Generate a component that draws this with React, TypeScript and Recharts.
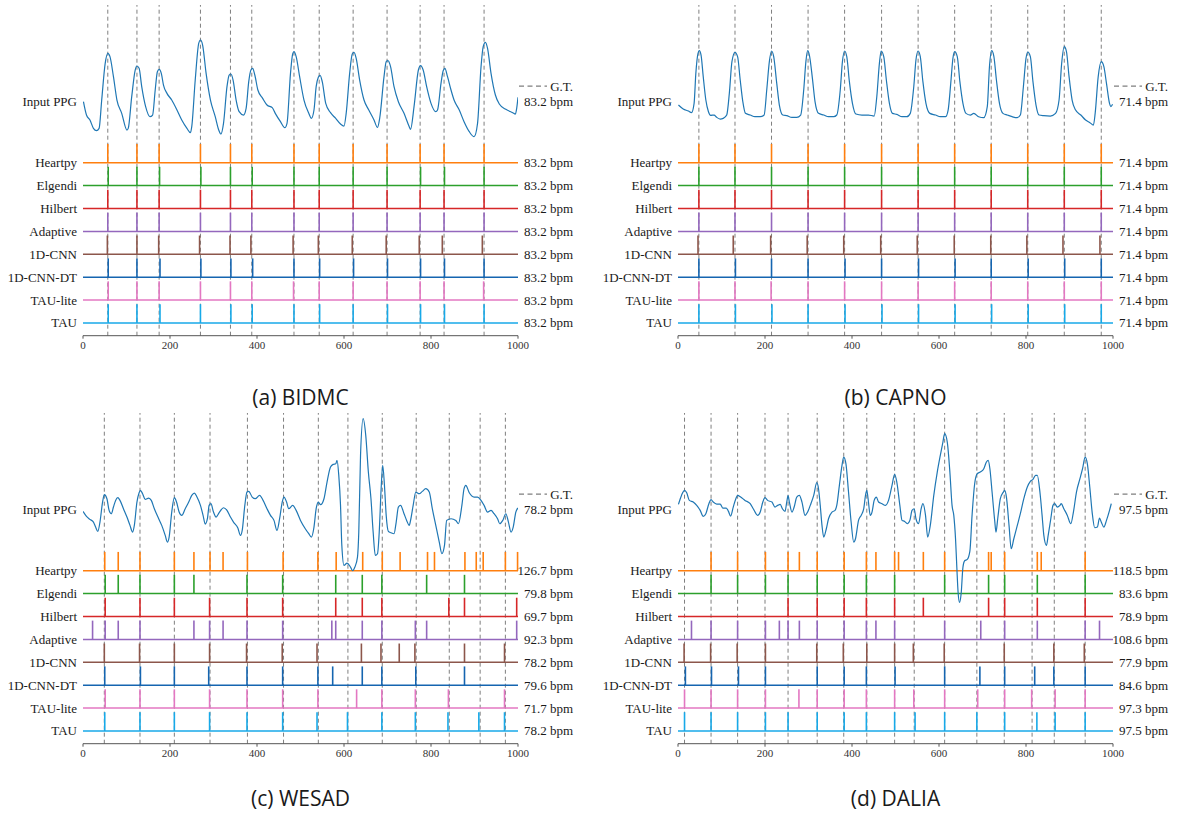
import React from 'react'
import { ComposedChart, Line, XAxis, YAxis, ReferenceLine } from 'recharts'

const SERIF = '"Liberation Serif", "DejaVu Serif", serif'
const SANS = '"Open Sans", "Noto Sans", sans-serif'

const METHODS = ['Heartpy', 'Elgendi', 'Hilbert', 'Adaptive', '1D-CNN', '1D-CNN-DT', 'TAU-lite', 'TAU']
const METHOD_COLORS = ['#ff7f0e', '#2ca02c', '#d62728', '#9467bd', '#8c564b', '#1565b0', '#e377c2', '#17a9e8']
const X_TICKS = [0, 200, 400, 600, 800, 1000]

// (a) BIDMC
const bidmcPpg: [number, number][] = [
  [1, 1.15], [8, 0.75], [16, 0.6], [24, 0.35], [31, 0.28], [37, 0.35], [43, 1.2], [51, 2.3], [57, 2.6], [62, 2.5],
  [70, 1.9], [78, 1.2], [89, 0.8], [101, 0.3], [104, 0.35], [112, 1.3], [120, 2.1], [124, 2.22], [129, 2.15], [135, 1.6],
  [144, 1.0], [154, 0.7], [160, 0.75], [166, 1.5], [171, 2.05], [175, 2.12], [180, 2.0], [185, 1.65], [193, 1.4], [204, 1.2],
  [216, 0.9], [227, 0.6], [239, 0.35], [247, 0.22], [250, 0.4], [258, 1.8], [266, 2.9], [270, 3.0], [275, 2.85], [283, 2.0],
  [293, 1.2], [304, 0.7], [312, 0.3], [317, 0.18], [323, 0.5], [331, 1.6], [336, 1.95], [340, 1.98], [345, 1.8], [352, 1.2],
  [359, 0.85], [369, 0.75], [375, 0.95], [381, 1.75], [386, 2.1], [390, 2.15], [395, 1.95], [402, 1.5], [413, 1.25], [423, 1.05],
  [435, 0.97], [442, 0.8], [454, 0.55], [464, 0.37], [469, 0.5], [477, 2.0], [482, 2.58], [485, 2.65], [490, 2.5], [498, 1.9],
  [508, 1.2], [519, 0.8], [525, 0.65], [531, 0.9], [536, 1.6], [541, 1.88], [545, 1.94], [550, 1.75], [558, 1.1], [569, 0.82],
  [581, 0.65], [592, 0.48], [600, 0.42], [605, 0.8], [613, 2.0], [619, 2.58], [623, 2.63], [628, 2.45], [636, 1.8], [646, 1.2],
  [657, 0.9], [669, 0.6], [677, 0.38], [682, 0.65], [692, 1.9], [697, 2.35], [701, 2.38], [707, 2.2], [715, 1.6], [725, 1.15],
  [738, 0.8], [750, 0.4], [753, 0.32], [761, 1.0], [771, 2.1], [776, 2.23], [782, 2.1], [790, 1.6], [800, 1.1], [811, 0.85],
  [815, 0.9], [823, 1.7], [828, 2.08], [832, 2.15], [838, 1.9], [846, 1.5], [853, 1.2], [865, 0.9], [876, 0.55], [888, 0.25],
  [899, 0.1], [907, 0.5], [915, 2.2], [920, 2.8], [925, 2.93], [930, 2.75], [938, 2.0], [948, 1.35], [957, 1.08], [972, 0.92],
  [988, 0.82], [994, 0.78], [997, 0.95], [1000, 1.28],
]
const bidmcGt = [57, 124, 175, 270, 339, 388, 485, 543, 621, 699, 775, 830, 922]
const bidmcPeaks = [
  [57, 124, 175, 270, 339, 388, 485, 543, 621, 699, 775, 830, 922],
  [58, 124, 176, 271, 339, 389, 485, 543, 621, 699, 776, 831, 922],
  [57, 124, 175, 270, 339, 388, 485, 543, 621, 699, 775, 830, 922],
  [57, 124, 175, 270, 339, 388, 485, 543, 621, 699, 775, 830, 922],
  [56, 124, 174, 268, 338, 386, 483, 541, 619, 697, 773, 826, 918],
  [58, 124, 177, 271, 340, 390, 485, 544, 622, 700, 776, 831, 922],
  [58, 124, 175, 270, 339, 388, 484, 543, 621, 699, 775, 830, 921],
  [58, 124, 177, 270, 340, 389, 485, 544, 621, 700, 776, 831, 922],
]
const bidmcBpm = [83.2, 83.2, 83.2, 83.2, 83.2, 83.2, 83.2, 83.2]
const bidmcGtBpm = 83.2

// (b) CAPNO
const capnoPpg: [number, number][] = [
  [1, 1.05], [12, 0.93], [24, 0.87], [31, 0.82], [37, 1.1], [41, 2.0], [46, 2.6], [49, 2.68], [53, 2.55], [58, 1.9],
  [64, 1.2], [70, 0.85], [75, 0.74], [83, 0.75], [89, 0.68], [97, 0.63], [104, 0.65], [112, 0.75], [118, 1.4], [124, 2.35],
  [131, 2.63], [137, 2.5], [143, 1.8], [149, 1.15], [155, 0.8], [166, 0.75], [177, 0.7], [189, 0.7], [198, 0.75], [204, 1.5],
  [210, 2.35], [215, 2.67], [220, 2.5], [227, 1.7], [233, 1.05], [241, 0.75], [250, 0.73], [262, 0.68], [273, 0.68], [282, 0.75],
  [289, 1.5], [294, 2.35], [298, 2.68], [302, 2.55], [309, 1.85], [315, 1.15], [323, 0.8], [335, 0.75], [346, 0.7], [358, 0.7],
  [365, 0.75], [373, 1.5], [378, 2.35], [383, 2.67], [388, 2.5], [394, 1.75], [401, 1.1], [409, 0.78], [423, 0.75], [438, 0.75],
  [451, 0.72], [457, 1.3], [463, 2.3], [467, 2.67], [473, 2.5], [479, 1.8], [486, 1.1], [493, 0.8], [503, 0.77], [515, 0.7],
  [526, 0.7], [534, 0.8], [542, 1.6], [547, 2.4], [552, 2.67], [557, 2.5], [563, 1.75], [570, 1.1], [579, 0.8], [592, 0.75],
  [603, 0.7], [615, 0.7], [621, 0.9], [627, 1.7], [632, 2.45], [636, 2.65], [642, 2.5], [648, 1.75], [655, 1.1], [662, 0.8],
  [672, 0.75], [680, 0.8], [691, 0.7], [703, 0.67], [711, 1.0], [716, 2.2], [721, 2.68], [726, 2.52], [732, 1.8], [739, 1.1],
  [747, 0.8], [757, 0.75], [768, 0.7], [780, 0.67], [787, 0.75], [794, 1.6], [800, 2.45], [804, 2.64], [810, 2.5], [816, 1.75],
  [823, 1.05], [830, 0.75], [841, 0.73], [856, 0.72], [868, 0.8], [876, 1.2], [882, 2.3], [888, 2.8], [893, 2.65], [899, 1.9],
  [906, 1.2], [914, 0.9], [926, 0.75], [937, 0.6], [947, 0.52], [955, 0.45], [959, 0.8], [966, 1.9], [973, 2.35], [979, 2.2],
  [985, 1.7], [992, 1.1], [995, 1.0], [999, 1.07],
]
const capnoGt = [48, 131, 215, 299, 383, 468, 552, 636, 720, 804, 888, 973]
const capnoPeaks = [
  [48, 131, 215, 299, 383, 468, 552, 636, 720, 804, 888, 973],
  [48, 131, 215, 299, 383, 468, 552, 636, 720, 804, 888, 973],
  [48, 131, 215, 299, 383, 468, 552, 636, 720, 804, 888, 973],
  [48, 131, 215, 299, 383, 468, 552, 636, 720, 804, 888, 973],
  [46, 127, 213, 297, 381, 466, 550, 635, 719, 802, 885, 970],
  [48, 132, 215, 299, 384, 468, 553, 637, 720, 805, 889, 973],
  [48, 131, 214, 299, 383, 468, 552, 636, 720, 804, 888, 973],
  [48, 132, 216, 299, 384, 469, 553, 637, 721, 805, 889, 973],
]
const capnoBpm = [71.4, 71.4, 71.4, 71.4, 71.4, 71.4, 71.4, 71.4]
const capnoGtBpm = 71.4

// (c) WESAD
const wesadPpg: [number, number][] = [
  [0, 1.02], [8, 0.87], [16, 0.78], [24, 0.7], [29, 0.55], [34, 0.42], [39, 0.7], [45, 1.3], [49, 1.52], [55, 1.4],
  [60, 1.05], [65, 0.95], [70, 1.15], [75, 1.35], [80, 1.43], [85, 1.35], [93, 1.1], [101, 0.85], [108, 0.6], [114, 0.4],
  [118, 0.6], [124, 1.3], [129, 1.58], [132, 1.65], [137, 1.55], [143, 1.38], [151, 1.42], [157, 1.35], [164, 1.1], [174, 0.8],
  [181, 0.6], [189, 0.3], [194, 0.1], [198, 0.25], [204, 1.0], [210, 1.43], [215, 1.3], [221, 1.0], [227, 0.9], [235, 1.1],
  [243, 1.3], [250, 1.5], [256, 1.57], [262, 1.45], [270, 1.2], [276, 0.9], [281, 0.64], [286, 0.8], [290, 1.2], [294, 1.25],
  [300, 1.0], [306, 0.85], [313, 0.98], [323, 1.13], [331, 1.05], [339, 0.85], [346, 0.7], [356, 0.52], [362, 0.3], [366, 0.45],
  [372, 1.2], [377, 1.6], [381, 1.62], [389, 1.45], [396, 1.4], [406, 1.5], [414, 1.35], [423, 1.1], [431, 0.9], [439, 0.75],
  [446, 0.45], [452, 0.8], [458, 1.3], [462, 1.45], [468, 1.3], [473, 1.1], [482, 1.2], [490, 1.05], [500, 0.75], [511, 0.5],
  [519, 0.35], [525, 0.25], [531, 0.55], [536, 1.1], [541, 1.3], [546, 1.22], [554, 1.4], [561, 1.9], [569, 2.35], [575, 2.43],
  [581, 2.45], [584, 2.55], [588, 2.1], [592, 1.2], [595, 0.0], [600, -0.6], [607, -0.53], [615, -0.65], [620, -0.76], [625, -0.65],
  [631, -0.35], [634, 0.4], [638, 2.7], [644, 3.8], [650, 3.3], [656, 2.2], [662, 1.4], [667, 0.4], [672, -0.3], [677, -0.25],
  [681, 0.4], [685, 1.6], [689, 2.4], [693, 1.8], [697, 0.9], [702, 0.42], [708, 0.38], [715, 0.35], [720, 0.7], [725, 1.15],
  [730, 1.2], [738, 0.95], [744, 0.75], [750, 0.6], [753, 0.75], [759, 1.2], [765, 1.6], [773, 1.55], [780, 1.62], [788, 1.7],
  [796, 1.6], [803, 1.1], [811, 0.6], [819, 0.1], [825, -0.25], [831, 0.0], [836, 0.75], [846, 0.8], [857, 0.75], [863, 0.65],
  [871, 1.2], [876, 1.7], [880, 1.8], [888, 1.58], [899, 1.45], [907, 1.45], [915, 1.35], [922, 1.2], [930, 1.0], [938, 1.05],
  [945, 0.95], [953, 0.8], [958, 0.65], [965, 0.75], [972, 0.95], [978, 0.7], [984, 0.4], [989, 0.55], [995, 1.0], [1000, 1.12],
]
const wesadGt = [49, 131, 210, 292, 378, 461, 541, 609, 688, 766, 842, 913, 971]
const wesadPeaks = [
  [50, 81, 131, 210, 255, 292, 322, 378, 460, 540, 582, 643, 688, 729, 792, 808, 878, 904, 920, 971, 999],
  [51, 81, 131, 210, 255, 377, 459, 581, 642, 687, 790, 877],
  [51, 131, 210, 291, 377, 459, 581, 642, 687, 841, 877, 997],
  [22, 51, 81, 131, 255, 291, 322, 377, 459, 572, 581, 642, 687, 764, 790, 997],
  [49, 130, 210, 291, 376, 458, 538, 640, 685, 727, 763, 877, 969],
  [50, 132, 210, 289, 377, 459, 540, 574, 642, 687, 765, 877],
  [51, 131, 210, 291, 377, 459, 540, 629, 687, 764, 840, 969],
  [50, 131, 210, 291, 377, 459, 538, 608, 687, 764, 839, 910, 969],
]
const wesadBpm = [126.7, 79.8, 69.7, 92.3, 78.2, 79.6, 71.7, 78.2]
const wesadGtBpm = 78.2

// (d) DALIA
const daliaPpg: [number, number][] = [
  [1, 1.23], [8, 1.5], [15, 1.65], [20, 1.58], [26, 1.35], [35, 1.3], [43, 1.2], [51, 1.05], [58, 0.87], [64, 0.95],
  [71, 1.25], [76, 1.37], [81, 1.3], [89, 1.24], [97, 1.24], [103, 1.12], [111, 1.12], [116, 1.02], [121, 0.88], [127, 1.15],
  [133, 1.4], [137, 1.5], [144, 1.45], [154, 1.35], [166, 1.25], [173, 1.1], [183, 0.9], [189, 1.0], [195, 1.3], [200, 1.43],
  [206, 1.35], [216, 1.3], [223, 1.15], [229, 1.2], [235, 1.23], [240, 1.1], [246, 1.02], [250, 1.3], [253, 1.49], [256, 1.3],
  [262, 1.0], [267, 1.15], [273, 1.45], [279, 1.5], [285, 1.3], [292, 0.9], [298, 1.0], [304, 1.2], [312, 1.5], [319, 1.88],
  [323, 1.7], [327, 1.2], [331, 0.6], [335, 0.25], [341, 0.5], [346, 0.8], [354, 1.0], [361, 1.05], [365, 1.2], [371, 1.8],
  [377, 2.4], [381, 2.65], [386, 2.45], [392, 1.6], [398, 0.7], [404, 0.1], [408, 0.2], [415, 0.75], [421, 0.9], [427, 1.1],
  [431, 1.5], [434, 1.65], [437, 1.4], [442, 0.9], [446, 1.0], [451, 1.35], [456, 1.45], [461, 1.3], [469, 1.25], [477, 1.2],
  [484, 1.35], [492, 1.8], [498, 2.13], [503, 1.9], [510, 1.2], [515, 0.75], [521, 0.72], [527, 0.65], [533, 0.75], [538, 1.05],
  [543, 1.1], [547, 0.8], [553, 0.65], [559, 1.1], [563, 1.25], [569, 0.9], [574, 0.25], [580, 0.6], [588, 1.5], [596, 2.2],
  [603, 2.7], [609, 3.1], [613, 3.35], [619, 3.1], [625, 2.2], [630, 1.2], [634, 0.9], [638, 0.2], [641, -0.66], [644, -1.43],
  [647, -1.71], [651, -1.43], [655, -0.66], [659, -0.46], [665, -0.42], [671, -0.17], [676, 0.9], [682, 1.85], [688, 2.15], [695, 2.2],
  [703, 2.3], [709, 2.5], [713, 2.55], [717, 2.3], [722, 1.6], [728, 0.75], [731, 0.4], [735, 0.8], [741, 1.4], [748, 1.6],
  [751, 1.65], [755, 1.45], [761, 0.6], [766, -0.1], [772, 0.2], [780, 0.6], [787, 0.95], [795, 1.4], [803, 1.75], [810, 1.92],
  [816, 1.98], [822, 2.1], [826, 2.1], [832, 1.6], [837, 0.9], [841, 0.3], [847, 0.0], [851, 0.3], [857, 0.8], [862, 1.2],
  [866, 1.25], [872, 1.15], [878, 1.2], [881, 1.25], [887, 1.1], [895, 0.9], [903, 0.65], [909, 1.0], [916, 1.6], [924, 2.0],
  [930, 2.3], [936, 2.65], [941, 2.45], [947, 1.7], [952, 1.0], [958, 0.53], [964, 0.55], [969, 0.82], [973, 0.7], [979, 0.55],
  [985, 0.75], [992, 1.05], [996, 1.25],
]
const daliaGt = [15, 76, 137, 200, 253, 320, 381, 434, 498, 543, 613, 687, 750, 814, 865, 936]
const daliaPeaks = [
  [76, 137, 201, 253, 279, 320, 382, 433, 455, 498, 507, 564, 613, 714, 720, 751, 826, 835, 936],
  [76, 137, 201, 253, 320, 382, 433, 498, 613, 714, 751, 826, 936],
  [253, 320, 382, 433, 498, 564, 714, 751, 826, 936],
  [31, 76, 137, 201, 233, 253, 279, 320, 382, 433, 455, 498, 613, 696, 751, 826, 936, 969],
  [14, 75, 136, 201, 319, 380, 434, 498, 541, 612, 750, 864, 934],
  [17, 77, 139, 201, 320, 382, 433, 499, 613, 694, 751, 820, 864, 936],
  [15, 76, 137, 201, 278, 320, 382, 433, 498, 542, 613, 689, 751, 813, 867, 936],
  [15, 76, 137, 201, 253, 320, 382, 433, 498, 545, 613, 687, 751, 825, 867, 936],
]
const daliaBpm = [118.5, 83.6, 78.9, 108.6, 77.9, 84.6, 97.3, 97.5]
const daliaGtBpm = 97.5

// layout in row units: Heartpy row = 8 ... TAU row = 1
const ROW_Y = [8, 7, 6, 5, 4, 3, 2, 1]
const Y_DOMAIN: [number, number] = [0.445, 14.887]
const SPIKE_H = 0.82
const PPG_LABEL_Y = 10.66
const GT_KEY_Y = 11.34
const PPG_GAIN = 1.456
const LEFT_W = 83
const PLOT_W = 435
const CHART_H = 360

interface PanelProps {
  left: number
  top: number
  rightW: number
  ppg: [number, number][]
  ppgBase: number
  gt: number[]
  peaks: number[][]
  bpm: number[]
  gtBpm: number
  caption: string
  captionTop: number
}

function Panel({ left, top, rightW, ppg, ppgBase, gt, peaks, bpm, gtBpm, caption, captionTop }: PanelProps) {
  const data = ppg.map(([t, v]) => ({ t, ppg: ppgBase + v * PPG_GAIN }))
  const leftNames = new Map<number, string>(ROW_Y.map((r, i) => [r, METHODS[i]]))
  leftNames.set(PPG_LABEL_Y, 'Input PPG')
  const rightNames = new Map<number, string>(ROW_Y.map((r, i) => [r, bpm[i].toFixed(1) + ' bpm']))
  rightNames.set(PPG_LABEL_Y, gtBpm.toFixed(1) + ' bpm')
  const width = LEFT_W + PLOT_W + rightW

  const leftTick = (p: any) => (
    <text x={p.x} y={p.y} dy={4.5} textAnchor="end" fontSize={13} fontFamily={SERIF} fill="#1a1a1a">
      {leftNames.get(p.payload.value)}
    </text>
  )
  const rightTick = (p: any) => {
    const v = p.payload.value
    if (v === GT_KEY_Y) {
      return (
        <g>
          <line x1={p.x + 1} x2={p.x + 29} y1={p.y} y2={p.y} stroke="#7f7f7f" strokeWidth={1.2} strokeDasharray="5 3.5" />
          <text x={p.x + 55} y={p.y} dy={4.5} textAnchor="end" fontSize={13} fontFamily={SERIF} fill="#1a1a1a">G.T.</text>
        </g>
      )
    }
    return (
      <text x={p.x + 55} y={p.y} dy={4.5} textAnchor="end" fontSize={13} fontFamily={SERIF} fill="#1a1a1a">
        {rightNames.get(v)}
      </text>
    )
  }

  return (
    <>
      <div style={{ position: 'absolute', left, top, width, height: CHART_H }}>
        <ComposedChart width={width} height={CHART_H} data={data} margin={{ top: 5, right: 0, bottom: 0, left: 0 }}>
          <XAxis
            dataKey="t"
            type="number"
            domain={[0, 1000]}
            ticks={X_TICKS}
            interval={0}
            height={24.3}
            tickSize={3}
            stroke="#555"
            tick={{ fontSize: 11, fill: '#333', fontFamily: SERIF }}
            allowDataOverflow
          />
          <YAxis
            yAxisId="L"
            type="number"
            domain={Y_DOMAIN}
            ticks={[...ROW_Y, PPG_LABEL_Y]}
            interval={0}
            width={LEFT_W}
            axisLine={false}
            tickLine={false}
            tickSize={0}
            tickMargin={6}
            tick={leftTick}
            allowDataOverflow
          />
          <YAxis
            yAxisId="R"
            orientation="right"
            type="number"
            domain={Y_DOMAIN}
            ticks={[...ROW_Y, PPG_LABEL_Y, GT_KEY_Y]}
            interval={0}
            width={rightW}
            axisLine={false}
            tickLine={false}
            tickSize={0}
            tickMargin={0}
            tick={rightTick}
            allowDataOverflow
          />
          {gt.map((g) => (
            <ReferenceLine key={'gt' + g} yAxisId="L" x={g} stroke="#7f7f7f" strokeWidth={1} strokeDasharray="4 3" />
          ))}
          {ROW_Y.map((r, i) => (
            <ReferenceLine key={'base' + i} yAxisId="L" y={r} stroke={METHOD_COLORS[i]} strokeWidth={1.5} />
          ))}
          {peaks.map((row, i) =>
            row.map((p, j) => (
              <ReferenceLine
                key={'pk' + i + '-' + j}
                yAxisId="L"
                segment={[{ x: p, y: ROW_Y[i] }, { x: p, y: ROW_Y[i] + SPIKE_H }]}
                stroke={METHOD_COLORS[i]}
                strokeWidth={1.6}
              />
            ))
          )}
          <Line
            yAxisId="L"
            dataKey="ppg"
            type="monotone"
            stroke="#1f77b4"
            strokeWidth={1.2}
            dot={false}
            isAnimationActive={false}
          />
        </ComposedChart>
      </div>
      <div
        style={{
          position: 'absolute',
          left: left + LEFT_W,
          top: captionTop,
          width: PLOT_W,
          textAlign: 'center',
          fontFamily: SANS,
          fontSize: 21,
          lineHeight: '24px',
          color: '#1a1a1a',
        }}
      >
        {caption}
      </div>
    </>
  )
}

export default function App() {
  return (
    <div style={{ position: 'absolute', left: 0, top: 0, width: 1177, height: 820, background: '#fff' }}>
      <Panel left={0} top={0} rightW={72} ppg={bidmcPpg} ppgBase={8.99} gt={bidmcGt} peaks={bidmcPeaks}
        bpm={bidmcBpm} gtBpm={bidmcGtBpm} caption="(a) BIDMC" captionTop={385} />
      <Panel left={595} top={0} rightW={64} ppg={capnoPpg} ppgBase={8.99} gt={capnoGt} peaks={capnoPeaks}
        bpm={capnoBpm} gtBpm={capnoGtBpm} caption="(b) CAPNO" captionTop={385} />
      <Panel left={0} top={407.6} rightW={72} ppg={wesadPpg} ppgBase={9.105} gt={wesadGt} peaks={wesadPeaks}
        bpm={wesadBpm} gtBpm={wesadGtBpm} caption="(c) WESAD" captionTop={786} />
      <Panel left={595} top={407.6} rightW={64} ppg={daliaPpg} ppgBase={9.105} gt={daliaGt} peaks={daliaPeaks}
        bpm={daliaBpm} gtBpm={daliaGtBpm} caption="(d) DALIA" captionTop={786} />
    </div>
  )
}
